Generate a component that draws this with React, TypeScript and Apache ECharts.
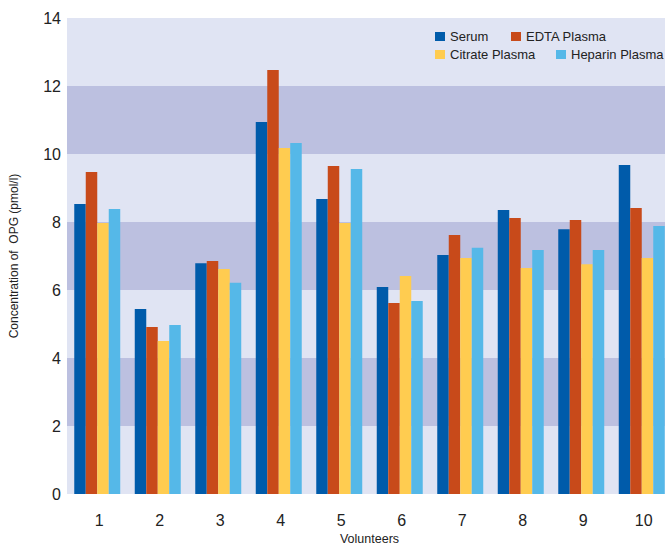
import React, { useEffect, useRef } from "react";
import * as echarts from "echarts";

const categories = ["1", "2", "3", "4", "5", "6", "7", "8", "9", "10"];
const seriesNames = ["Serum", "EDTA Plasma", "Citrate Plasma", "Heparin Plasma"];
const serum = [8.53, 5.44, 6.79, 10.94, 8.68, 6.09, 7.03, 8.35, 7.79, 9.68];
const edta = [9.47, 4.91, 6.85, 12.47, 9.65, 5.62, 7.62, 8.12, 8.06, 8.41];
const citrate = [7.97, 4.5, 6.62, 10.18, 7.97, 6.41, 6.94, 6.65, 6.76, 6.94];
const heparin = [8.38, 4.97, 6.21, 10.32, 9.56, 5.68, 7.24, 7.18, 7.18, 7.88];

const FONT = "'Liberation Sans Narrow', 'Liberation Sans', Arial, sans-serif";
const COLORS = ["#005baa", "#c84a1a", "#ffcc50", "#55b8e8"];
const LEGEND_POS = [
  [435, 30],
  [511, 30],
  [435, 48],
  [556, 48],
];

export default function App() {
  const ref = useRef<HTMLDivElement>(null);
  useEffect(() => {
    document.body.style.margin = "0";
    const chart = echarts.init(ref.current!, null, { renderer: "svg" });
    const values = [serum, edta, citrate, heparin];
    chart.setOption({
      animation: false,
      textStyle: { fontFamily: FONT },
      legend: seriesNames.map((n, i) => ({
        data: [n],
        left: LEGEND_POS[i][0],
        top: LEGEND_POS[i][1],
        padding: 0,
        itemWidth: 10,
        itemHeight: 9,
        icon: "rect",
        textStyle: { fontSize: 13, color: "#222", fontFamily: FONT },
      })),
      grid: {
        left: 67,
        top: 18,
        width: 605,
        height: 476,
        containLabel: false,
        outerBoundsMode: "none",
      },
      xAxis: {
        type: "category",
        data: categories,
        axisLine: { show: false },
        axisTick: { show: false },
        axisLabel: {
          fontSize: 16,
          color: "#222",
          margin: 18,
          padding: [0, 0, 0, 4],
          fontFamily: FONT,
        },
        name: "Volunteers",
        nameLocation: "middle",
        nameGap: 37,
        nameTextStyle: { fontSize: 12.5, color: "#222", fontFamily: FONT },
      },
      yAxis: {
        type: "value",
        min: 0,
        max: 14,
        interval: 2,
        axisLine: { show: false },
        axisTick: { show: false },
        axisLabel: { fontSize: 16, color: "#222", margin: 6, fontFamily: FONT },
        splitLine: { show: false },
        splitArea: {
          show: true,
          areaStyle: { color: ["#e0e4f3", "#bcc0e0"] },
        },
        name: "Concentration of  OPG (pmol/l)",
        nameLocation: "middle",
        nameGap: 47,
        nameTextStyle: { fontSize: 12, color: "#222", fontFamily: FONT },
      },
      series: seriesNames.map((n, i) => ({
        name: n,
        type: "bar",
        data: values[i],
        barGap: "0%",
        barCategoryGap: "24%",
        itemStyle: { color: COLORS[i] },
      })),
    });
    return () => chart.dispose();
  }, []);
  return <div ref={ref} style={{ width: 665, height: 546 }} />;
}
